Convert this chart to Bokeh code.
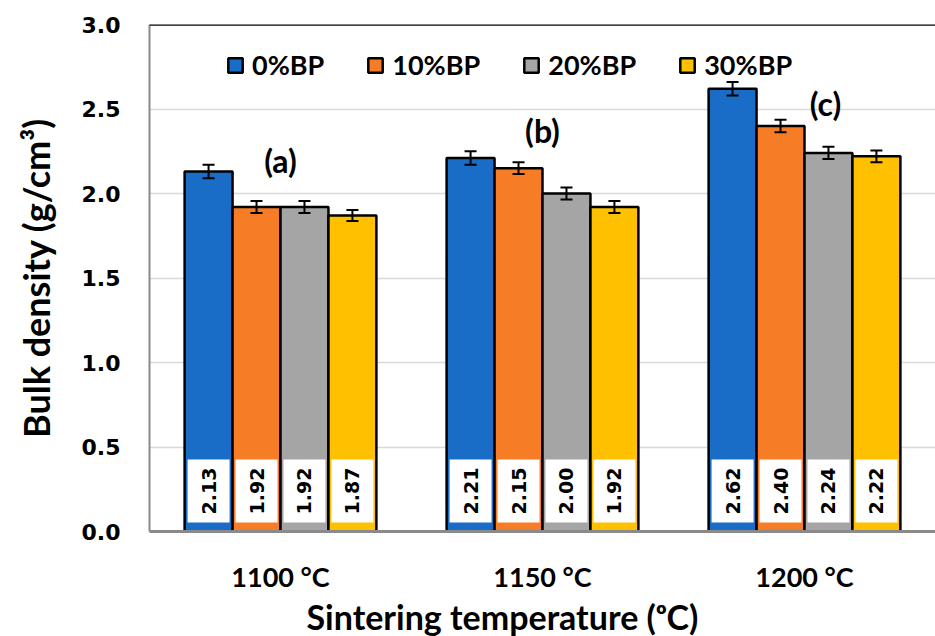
import math
from bokeh.plotting import figure
from bokeh.models import (ColumnDataSource, FactorRange, Whisker, Label, Span,
                          Legend, LegendItem, TeeHead, FixedTicker, Title,
                          CustomJSTickFormatter)
from bokeh.transform import dodge
from bokeh.core.properties import value
from bokeh.embed import file_html
from bokeh.resources import INLINE

# ---- data ----
categories = ["1100 °C", "1150 °C", "1200 °C"]
series = ["0%BP", "10%BP", "20%BP", "30%BP"]
bp0 = [2.13, 2.21, 2.62]
bp10 = [1.92, 2.15, 2.40]
bp20 = [1.92, 2.00, 2.24]
bp30 = [1.87, 1.92, 2.22]
err0 = [0.040, 0.040, 0.040]
err10 = [0.036, 0.035, 0.037]
err20 = [0.036, 0.035, 0.036]
err30 = [0.032, 0.035, 0.035]
y_ticks = [0.0, 0.5, 1.0, 1.5, 2.0, 2.5, 3.0]
panel_tags = ["(a)", "(b)", "(c)"]

values_all = [bp0, bp10, bp20, bp30]
errs_all = [err0, err10, err20, err30]

# ---- style ----
colors = ["#1A6DC6", "#F67D25", "#A5A5A5", "#FFC000"]
offsets = [-0.2745, -0.0915, 0.0915, 0.2745]
bar_w = 0.183
calibri_like = "Lato"
num_font = "DejaVu Sans"

p = figure(x_range=FactorRange(factors=categories), y_range=(0, 3.0),
           frame_width=786, frame_height=507,
           min_border_left=149, min_border_right=0,
           min_border_top=24, min_border_bottom=105,
           output_backend="svg", toolbar_location=None)

p.outline_line_color = None
p.background_fill_color = "white"
p.border_fill_color = "white"

# grid
p.xgrid.grid_line_color = None
p.ygrid.grid_line_color = "#d9d9d9"
p.ygrid.grid_line_width = 1.5

# axes
p.yaxis.ticker = FixedTicker(ticks=y_ticks)
p.yaxis.formatter = CustomJSTickFormatter(code="return tick.toFixed(1);")
for ax in (p.xaxis, p.yaxis):
    ax.major_tick_line_color = None
    ax.minor_tick_line_color = None
    ax.major_tick_out = 0
    ax.major_tick_in = 0
    ax.minor_tick_out = 0
    ax.axis_line_color = "#8a8a8a"
p.yaxis.axis_line_width = 2
p.xaxis.axis_line_width = 3
p.yaxis.major_label_text_font = num_font
p.yaxis.major_label_text_font_style = "bold"
p.yaxis.major_label_text_font_size = "22px"
p.yaxis.major_label_text_color = "black"
p.yaxis.major_label_standoff = 29
p.yaxis.axis_label = "Bulk density (g/cm³)"
p.yaxis.axis_label_text_font = calibri_like
p.yaxis.axis_label_text_font_style = "bold"
p.yaxis.axis_label_text_font_size = "36px"
p.yaxis.axis_label_text_color = "black"
p.yaxis.axis_label_standoff = 21

p.xaxis.major_label_text_font = calibri_like
p.xaxis.major_label_text_font_style = "bold"
p.xaxis.major_label_text_font_size = "27px"
p.xaxis.major_label_text_color = "black"
p.xaxis.major_label_standoff = 28

# x-axis title (placed slightly left of centre, as in the reference)
xtitle = Title(text="Sintering temperature (ᵒC)", align="left", offset=157,
               vertical_align="top", text_line_height=1.0,
               text_font=calibri_like, text_font_style="bold",
               text_font_size="34px", text_color="black", standoff=0)
p.add_layout(xtitle, "below")

# top border line
p.add_layout(Span(location=3.0, dimension="width", line_color="black", line_width=2.5))

items = []
for i, (s, vals, errs) in enumerate(zip(series, values_all, errs_all)):
    src = ColumnDataSource(dict(
        cat=categories, top=vals,
        upper=[v + e for v, e in zip(vals, errs)],
        lower=[v - e for v, e in zip(vals, errs)],
        lbl=[f"{v:.2f}" for v in vals],
        lbl_y=[0.24] * len(vals),
    ))
    xs = dodge("cat", offsets[i], range=p.x_range)
    r = p.vbar(x=xs, top="top", bottom=0, width=bar_w, source=src,
               fill_color=colors[i], line_color="black", line_width=2.5)
    items.append(LegendItem(label=s, renderers=[r]))
    p.rect(x=xs, y="lbl_y", width=42, height=63, width_units="screen",
           height_units="screen", fill_color="white", line_color=None, source=src)
    p.text(x=xs, y="lbl_y", text="lbl", angle=math.pi / 2, source=src,
           text_font=value(num_font), text_font_style="bold",
           text_font_size="19px", text_color="black",
           text_align="center", text_baseline="middle")
    w = Whisker(base=xs, upper="upper", lower="lower", source=src,
                line_color="black", line_width=2, level="overlay",
                upper_head=TeeHead(size=12, line_width=2, line_color="black"),
                lower_head=TeeHead(size=12, line_width=2, line_color="black"))
    p.add_layout(w)

legend = Legend(items=items, orientation="horizontal", location=(77, 450),
                glyph_width=18, glyph_height=18, label_standoff=8, spacing=42,
                padding=0, margin=0, border_line_color=None,
                background_fill_alpha=0,
                label_text_font=calibri_like, label_text_font_style="bold",
                label_text_font_size="27px", label_text_color="black")
p.add_layout(legend)

# panel tags
tag_pos = [(0.5, 2.195), (1.5, 2.37), (2.58, 2.53)]
for t, (tx, ty) in zip(panel_tags, tag_pos):
    p.add_layout(Label(x=tx, y=ty, text=t, text_align="center",
                       text_baseline="middle", text_font=calibri_like,
                       text_font_style="bold", text_font_size="32px",
                       text_color="black"))

open("out.html", "w").write(file_html(p, INLINE))
